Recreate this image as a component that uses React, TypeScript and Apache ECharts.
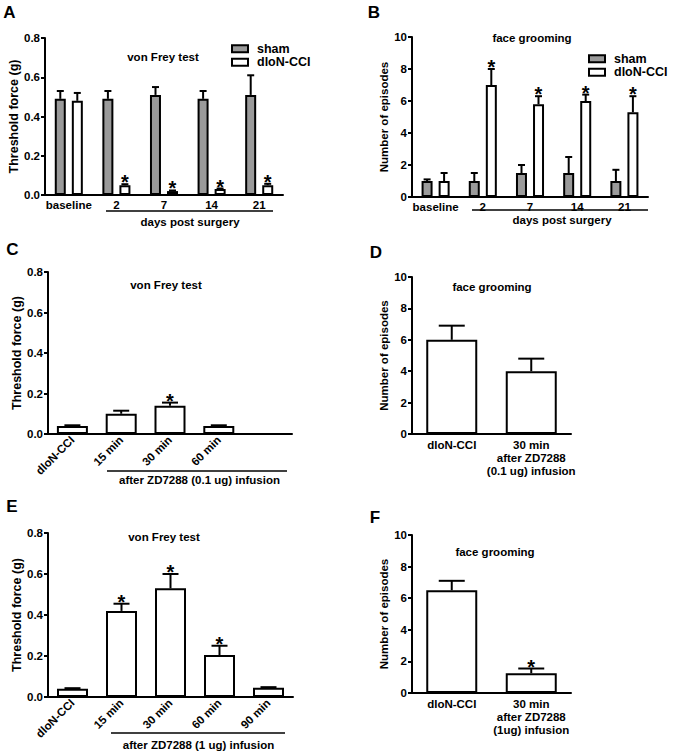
import React, { useEffect, useRef } from "react";
import * as echarts from "echarts";

// ---------- data ----------
const catsAB = ["baseline", "2", "7", "14", "21"];
const shamA = [0.49, 0.49, 0.51, 0.49, 0.51];
const shamASem = [0.04, 0.04, 0.04, 0.04, 0.1];
const shamASig = [0, 0, 0, 0, 0];
const cciA = [0.48, 0.05, 0.02, 0.03, 0.05];
const cciASem = [0.04, 0.005, 0.003, 0.003, 0.007];
const cciASig = [0, 1, 1, 1, 1];

const shamB = [1.0, 1.0, 1.5, 1.5, 1.0];
const shamBSem = [0.1, 0.5, 0.5, 1.0, 0.7];
const shamBSig = [0, 0, 0, 0, 0];
const cciB = [1.0, 7.0, 5.8, 6.0, 5.3];
const cciBSem = [0.5, 1.0, 0.5, 0.4, 1.0];
const cciBSig = [0, 1, 1, 1, 1];

const catsC = ["dloN-CCI", "15 min", "30 min", "60 min", ""];
const valC = [0.04, 0.1, 0.14, 0.04];
const semC = [0.003, 0.015, 0.015, 0.003];
const sigC = [0, 0, 1, 0];

const catsD = ["dloN-CCI", "30 min\nafter ZD7288\n(0.1 ug) infusion"];
const valD = [6.0, 4.0];
const semD = [0.9, 0.8];
const sigD = [0, 0];

const catsE = ["dloN-CCI", "15 min", "30 min", "60 min", "90 min"];
const valE = [0.04, 0.42, 0.53, 0.205, 0.045];
const semE = [0.003, 0.035, 0.07, 0.045, 0.003];
const sigE = [0, 1, 1, 1, 0];

const catsF = ["dloN-CCI", "30 min\nafter ZD7288\n(1ug) infusion"];
const valF = [6.5, 1.25];
const semF = [0.6, 0.3];
const sigF = [0, 1];

const forceTicks = { min: 0, max: 0.8, interval: 0.2 };
const countTicks = { min: 0, max: 10, interval: 2 };
const legendNames = ["sham", "dloN-CCI"];

// ---------- layout / style ----------
const FONT = "'Liberation Sans', Arial, sans-serif";
const GRAY = "#9a9a9a";
const grids = [
  { left: 45, top: 38, width: 238, height: 157 },
  { left: 412, top: 37, width: 236, height: 160 },
  { left: 48, top: 272, width: 244, height: 162 },
  { left: 412, top: 277, width: 159, height: 157 },
  { left: 48, top: 533, width: 245, height: 164 },
  { left: 412, top: 535, width: 159, height: 158 },
];

const xAx = (gi: number, data: string[], extra: any = {}) => ({
  type: "category",
  gridIndex: gi,
  data,
  axisLine: { lineStyle: { color: "#000", width: 2 } },
  axisTick: { show: false },
  axisLabel: {
    interval: 0,
    color: "#000",
    fontWeight: "bold",
    fontSize: 11.5,
    fontFamily: FONT,
    margin: 4,
    ...extra,
  },
  splitLine: { show: false },
});

const yAx = (gi: number, ticks: any, name: string, nameGap: number, nameSize: number, fmt?: any) => ({
  type: "value",
  gridIndex: gi,
  ...ticks,
  name,
  nameLocation: "middle",
  nameGap,
  nameRotate: 90,
  nameTextStyle: { color: "#000", fontWeight: "bold", fontSize: nameSize, fontFamily: FONT },
  axisLine: { show: true, lineStyle: { color: "#000", width: 2 } },
  axisTick: { show: true, length: 4, lineStyle: { color: "#000", width: 2 } },
  axisLabel: { color: "#000", fontWeight: "bold", fontSize: 11.5, fontFamily: FONT, margin: 5, formatter: fmt },
  splitLine: { show: false },
});

const barS = (name: string, gi: number, data: number[], color: string, barWidth: number, barGap?: string) => ({
  type: "bar",
  name,
  xAxisIndex: gi,
  yAxisIndex: gi,
  data,
  barWidth,
  barGap,
  itemStyle: { color, borderColor: "#000", borderWidth: 2 },
  z: 2,
});

const errS = (gi: number, vals: number[], sems: number[], sigs: number[], offset: number, capHalf: number) => ({
  type: "custom",
  xAxisIndex: gi,
  yAxisIndex: gi,
  z: 3,
  silent: true,
  data: vals.map((v, i) => [i, v, sems[i], sigs[i]]),
  renderItem: (params: any, api: any) => {
    const i = api.value(0);
    const v = api.value(1);
    const e = api.value(2);
    const sig = api.value(3);
    const base = api.coord([i, v]);
    const top = api.coord([i, v + e]);
    const x = base[0] + offset;
    const children: any[] = [
      { type: "line", shape: { x1: x, y1: base[1], x2: x, y2: top[1] }, style: { stroke: "#000", lineWidth: 2 } },
      { type: "line", shape: { x1: x - capHalf, y1: top[1], x2: x + capHalf, y2: top[1] }, style: { stroke: "#000", lineWidth: 2 } },
    ];
    if (sig) {
      children.push({
        type: "text",
        x,
        y: top[1] - 2,
        style: {
          text: "*",
          fill: "#000",
          fontSize: 20,
          fontWeight: "bold",
          fontFamily: FONT,
          align: "center",
          verticalAlign: "middle",
        },
      });
    }
    return { type: "group", children };
  },
});

const txt = (text: string, x: number, y: number, size: number) => ({
  type: "text",
  x,
  y,
  silent: true,
  style: {
    text,
    fill: "#000",
    fontSize: size,
    fontWeight: "bold",
    fontFamily: FONT,
    align: "center",
    verticalAlign: "middle",
  },
});
const ln = (x1: number, y1: number, x2: number, y2: number) => ({
  type: "line",
  silent: true,
  shape: { x1, y1, x2, y2 },
  style: { stroke: "#000", lineWidth: 1.5 },
});

const legendBase = {
  data: legendNames,
  orient: "vertical",
  padding: 0,
  itemWidth: 16,
  itemHeight: 7,
  itemGap: 0,
  icon: "rect",
  selectedMode: false,
  itemStyle: { borderColor: "#000", borderWidth: 2 },
  textStyle: { fontSize: 12.5, fontWeight: "bold", color: "#000", fontFamily: FONT, lineHeight: 13.5, padding: [0, 0, 0, 4] },
};

const fmt1 = (v: number) => v.toFixed(1);

export default function App() {
  const ref = useRef<HTMLDivElement>(null);
  useEffect(() => {
    if (!ref.current) return;
    const chart = echarts.init(ref.current, undefined, { renderer: "svg" });
    const pairOff = (11 + 6) / 2;
    const option: any = {
      animation: false,
      backgroundColor: "#fff",
      textStyle: { fontFamily: FONT },
      grid: grids,
      legend: [
        { ...legendBase, left: 231, top: 42 },
        { ...legendBase, left: 588, top: 52 },
      ],
      xAxis: [
        xAx(0, catsAB),
        xAx(1, catsAB),
        xAx(2, catsC, { rotate: 45 }),
        xAx(3, catsD, { lineHeight: 13, fontSize: 11.5 }),
        xAx(4, catsE, { rotate: 45 }),
        xAx(5, catsF, { lineHeight: 13, fontSize: 11.5 }),
      ],
      yAxis: [
        yAx(0, forceTicks, "Threshold force (g)", 25, 12.5, fmt1),
        yAx(1, countTicks, "Number of episodes", 18, 11.5),
        yAx(2, forceTicks, "Threshold force (g)", 25, 12.5, fmt1),
        yAx(3, countTicks, "Number of episodes", 18, 11.5),
        yAx(4, forceTicks, "Threshold force (g)", 25, 12.5, fmt1),
        yAx(5, countTicks, "Number of episodes", 18, 11.5),
      ],
      series: [
        barS("sham", 0, shamA, GRAY, 11, "55%"),
        barS("dloN-CCI", 0, cciA, "#fff", 11, "55%"),
        errS(0, shamA, shamASem, shamASig, -pairOff, 3.5),
        errS(0, cciA, cciASem, cciASig, pairOff, 3.5),
        barS("sham", 1, shamB, GRAY, 11, "55%"),
        barS("dloN-CCI", 1, cciB, "#fff", 11, "55%"),
        errS(1, shamB, shamBSem, shamBSig, -pairOff, 3.5),
        errS(1, cciB, cciBSem, cciBSig, pairOff, 3.5),
        barS("C", 2, valC, "#fff", 31),
        errS(2, valC, semC, sigC, 0, 8),
        barS("D", 3, valD, "#fff", 51),
        errS(3, valD, semD, sigD, 0, 13),
        barS("E", 4, valE, "#fff", 31),
        errS(4, valE, semE, sigE, 0, 8),
        barS("F", 5, valF, "#fff", 51),
        errS(5, valF, semF, sigF, 0, 13),
      ],
      graphic: [
        txt("A", 9.5, 12.5, 17),
        txt("B", 374, 12.5, 17),
        txt("C", 12.5, 249, 17),
        txt("D", 376, 252, 17),
        txt("E", 12, 506, 17),
        txt("F", 375, 517, 17),
        txt("von Frey test", 163, 57, 11.5),
        txt("face grooming", 532, 38, 11.5),
        txt("von Frey test", 166, 285, 11.5),
        txt("face grooming", 492, 287, 11.5),
        txt("von Frey test", 164, 537, 11.5),
        txt("face grooming", 495, 552, 11.5),
        ln(106, 211, 273, 211),
        ln(472, 210, 648, 210),
        ln(107, 471, 287, 471),
        ln(111, 733, 285, 733),
        txt("days post surgery", 190, 222, 11.5),
        txt("days post surgery", 562, 220, 11.5),
        txt("after ZD7288 (0.1 ug) infusion", 199.5, 480, 11.5),
        txt("after ZD7288 (1 ug) infusion", 198.5, 745, 11.5),
      ],
    };
    chart.setOption(option);
    return () => chart.dispose();
  }, []);
  return (
    <div
      ref={ref}
      style={{ position: "fixed", left: 0, top: 0, width: 673, height: 755, background: "#fff" }}
    />
  );
}
